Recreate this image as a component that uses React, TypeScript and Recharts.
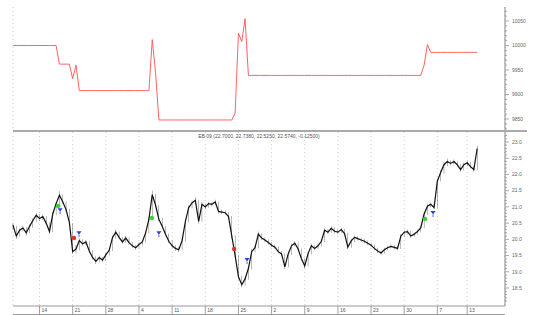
import { ComposedChart, Line, Bar, Scatter, XAxis, YAxis, CartesianGrid } from "recharts";

// close per half-day slot (x = slot index)
const close = [
  20.44, 20.1, 20.28, 20.35, 20.2, 20.4, 20.58, 20.74, 20.64, 20.7,
  20.5, 20.24, 20.78, 21.1, 21.36, 21.16, 20.92, 20.52, 19.62, 19.7,
  19.96, 19.86, 19.92, 19.64, 19.44, 19.32, 19.44, 19.36, 19.52, 19.66,
  20.05, 20.22, 20.06, 19.92, 20.04, 19.9, 19.8, 19.74, 19.84, 19.92,
  20.2, 20.62, 21.38, 21.05, 20.62, 20.4, 20.16, 19.94, 19.8, 19.72,
  19.68, 19.96, 20.55, 20.98, 21.12, 21.2, 20.55, 21.08, 21.0, 21.1,
  21.08, 21.15, 20.86, 20.84, 20.82, 20.7, 20.1, 19.5, 18.85, 18.6,
  18.78, 19.1, 19.62, 19.74, 20.16, 20.04, 19.98, 19.9, 19.82, 19.76,
  19.62, 19.55, 19.15, 19.55, 19.8, 19.88, 19.7, 19.4, 19.18, 19.56,
  19.8, 19.72, 19.8, 19.94, 20.28, 20.22, 20.34, 20.25, 20.22, 20.3,
  20.18, 19.76, 19.95, 20.06, 20.02, 19.98, 19.94, 19.88, 19.82, 19.72,
  19.64, 19.58, 19.68, 19.74, 19.78, 19.75, 19.72, 20.1, 20.22, 20.24,
  20.1, 20.16, 20.24, 20.36, 20.78, 21.02, 21.08, 20.98, 21.8, 22.06,
  22.3, 22.4, 22.34, 22.4, 22.3, 22.15, 22.3, 22.36, 22.24, 22.15,
  22.8,
];

const high = [
  20.52, 20.42, 20.34, 20.42, 20.38, 20.46, 20.64, 20.8, 20.78, 20.76,
  20.72, 20.52, 20.84, 21.16, 21.48, 21.38, 21.18, 20.94, 20.5, 19.82,
  20.02, 20.0, 19.98, 19.94, 19.66, 19.48, 19.5, 19.46, 19.58, 19.72,
  20.12, 20.3, 20.24, 20.08, 20.1, 20.06, 19.92, 19.82, 19.9, 19.98,
  20.26, 20.7, 21.5, 21.4, 21.06, 20.66, 20.42, 20.18, 19.96, 19.82,
  19.76, 20.02, 20.62, 21.04, 21.2, 21.3, 21.22, 21.14, 21.1, 21.16,
  21.14, 21.22, 21.16, 20.92, 20.9, 20.84, 20.72, 20.12, 19.52, 18.88,
  18.86, 19.18, 19.7, 19.82, 20.24, 20.18, 20.06, 20.0, 19.92, 19.84,
  19.78, 19.64, 19.56, 19.62, 19.86, 19.94, 19.9, 19.72, 19.42, 19.62,
  19.86, 19.82, 19.86, 20.0, 20.34, 20.3, 20.4, 20.36, 20.3, 20.36,
  20.32, 20.2, 20.02, 20.12, 20.1, 20.06, 20.02, 19.96, 19.9, 19.84,
  19.74, 19.66, 19.74, 19.8, 19.84, 19.82, 19.8, 20.16, 20.28, 20.3,
  20.26, 20.22, 20.3, 20.42, 20.84, 21.1, 21.14, 21.1, 21.86, 22.14,
  22.38, 22.48, 22.44, 22.46, 22.42, 22.32, 22.36, 22.42, 22.38, 22.26,
  22.88,
];

const low = [
  20.3, 20.02, 20.08, 20.24, 20.12, 20.18, 20.36, 20.55, 20.58, 20.6,
  20.44, 20.18, 20.22, 20.74, 21.06, 21.1, 20.86, 20.46, 19.55, 19.56,
  19.66, 19.8, 19.82, 19.58, 19.38, 19.24, 19.3, 19.3, 19.34, 19.5,
  19.64, 20.02, 20.0, 19.86, 19.9, 19.84, 19.74, 19.68, 19.72, 19.8,
  19.9, 20.18, 20.6, 20.98, 20.56, 20.34, 20.1, 19.88, 19.74, 19.64,
  19.6, 19.66, 19.94, 20.52, 20.96, 21.08, 20.48, 20.54, 20.94, 20.98,
  21.02, 21.06, 20.8, 20.78, 20.76, 20.64, 20.02, 19.42, 18.76, 18.52,
  18.58, 18.76, 19.08, 19.6, 19.72, 19.98, 19.92, 19.84, 19.76, 19.7,
  19.56, 19.48, 19.08, 19.14, 19.52, 19.78, 19.64, 19.34, 19.1, 19.16,
  19.54, 19.66, 19.7, 19.78, 19.92, 20.16, 20.2, 20.18, 20.16, 20.2,
  20.12, 19.7, 19.74, 19.92, 19.96, 19.92, 19.88, 19.82, 19.76, 19.66,
  19.58, 19.52, 19.56, 19.66, 19.72, 19.68, 19.66, 19.7, 20.08, 20.16,
  20.04, 20.08, 20.14, 20.22, 20.34, 20.76, 20.98, 20.92, 20.96, 21.78,
  22.02, 22.26, 22.28, 22.3, 22.24, 22.08, 22.12, 22.26, 22.18, 22.08,
  22.14,
];

// upper indicator
const level = [
  10000, 10000, 10000, 10000, 10000, 10000, 10000, 10000, 10000, 10000,
  10000, 10000, 10000, 10000, 9962, 9962, 9962, 9962, 9932, 9960,
  9908, 9908, 9908, 9908, 9908, 9908, 9908, 9908, 9908, 9908,
  9908, 9908, 9908, 9908, 9908, 9908, 9908, 9908, 9908, 9908,
  9908, 9908, 10012, 9945, 9848, 9848, 9848, 9848, 9848, 9848,
  9848, 9848, 9848, 9848, 9848, 9848, 9848, 9848, 9848, 9848,
  9848, 9848, 9848, 9848, 9848, 9848, 9848, 9862, 10025, 10008,
  10055, 9939, 9939, 9939, 9939, 9939, 9939, 9939, 9939, 9939,
  9939, 9939, 9939, 9939, 9939, 9939, 9939, 9939, 9939, 9939,
  9939, 9939, 9939, 9939, 9939, 9939, 9939, 9939, 9939, 9939,
  9939, 9939, 9939, 9939, 9939, 9939, 9939, 9939, 9939, 9939,
  9939, 9939, 9939, 9939, 9939, 9939, 9939, 9939, 9939, 9939,
  9939, 9939, 9939, 9939, 9960, 10002, 9986, 9986, 9986, 9986,
  9986, 9986, 9986, 9986, 9986, 9986, 9986, 9986, 9986, 9986,
  9986,
];

const weekTicks = [8, 18, 28, 38, 48, 58, 68, 78, 88, 98, 108, 118, 128, 137];
const weekLabels = ["14", "21", "28", "4", "11", "18", "25", "2", "9", "16", "23", "30", "7", "13"];

const buyX = [13.6, 41.9, 124.3];
const buyY = [21.03, 20.66, 20.63];
const sellX = [18.4, 66.7];
const sellY = [20.04, 19.7];
const exitX = [14.2, 19.9, 44, 70.6, 126.7];
const exitY = [20.9, 20.19, 20.19, 19.36, 20.81];

const title = "EB 09 (22.7000, 22.7380, 22.5250, 22.5740, -0.12500)";

const FONT = "'Liberation Sans', Arial, sans-serif";
const X_DOMAIN: [number, number] = [0, 148.4];

const data = close.map((c, i) => ({ x: i, close: c, range: [low[i], high[i]], level: level[i] }));
const buys = buyX.map((x, i) => ({ x, y: buyY[i] }));
const sells = sellX.map((x, i) => ({ x, y: sellY[i] }));
const exits = exitX.map((x, i) => ({ x, y: exitY[i] }));

const levelTicks: number[] = [];
for (let v = 9830; v <= 10070; v += 10) levelTicks.push(v);
const priceTicks: number[] = [];
for (let v = 181; v <= 232; v++) priceTicks.push(v / 10);

function RightTick(props: any) {
  const { x, y, major, label } = props;
  return (
    <g>
      <line x1={x} x2={x + (major ? 4 : 2)} y1={y} y2={y} stroke="#888" strokeWidth={0.7} />
      {major && (
        <text x={x + 7} y={y + 1.8} fontSize={5} fill="#666" fontFamily={FONT}>
          {label}
        </text>
      )}
    </g>
  );
}

function WeekTick(props: any) {
  const { x, y, index } = props;
  return (
    <g>
      <line x1={x} x2={x} y1={y} y2={y + 8} stroke="#777" strokeWidth={0.7} />
      <text x={x + 2} y={y + 6} fontSize={5} fill="#555" fontFamily={FONT}>
        {weekLabels[index]}
      </text>
    </g>
  );
}

const Dot = (color: string) => (p: any) => <circle cx={p.cx} cy={p.cy} r={2.2} fill={color} />;

const ExitMark = (p: any) => (
  <g>
    <path d={`M${p.cx - 2.5},${p.cy - 2} L${p.cx + 2.5},${p.cy - 2} L${p.cx},${p.cy + 1.5} Z`} fill="#2a3fe8" />
    <line x1={p.cx} x2={p.cx} y1={p.cy + 1.5} y2={p.cy + 4} stroke="#2a3fe8" strokeWidth={0.8} />
  </g>
);

export default function App() {
  return (
    <div style={{ position: "absolute", left: 0, top: 0, width: 539, height: 315, background: "#fff", fontFamily: FONT }}>
      <div style={{ position: "absolute", left: 0, top: 0 }}>
        <ComposedChart width={539} height={131} data={data} margin={{ top: 7, right: 0, bottom: 0, left: 13 }}>
          <CartesianGrid vertical horizontal={false} stroke="#ccc" strokeDasharray="1 3" />
          <XAxis dataKey="x" type="number" domain={X_DOMAIN} ticks={weekTicks} height={0} tick={false} tickLine={false} axisLine={false} />
          <YAxis
            orientation="right"
            width={34}
            domain={[9825.5, 10078.6]}
            ticks={levelTicks}
            interval={0}
            tickSize={0}
            tickMargin={0}
            tickLine={false}
            axisLine={{ stroke: "#888" }}
            tick={(p: any) => <RightTick {...p} major={p.payload.value % 50 === 0} label={String(p.payload.value)} />}
          />
          <Line type="linear" dataKey="level" stroke="#ff6262" strokeWidth={1} dot={false} isAnimationActive={false} />
        </ComposedChart>
      </div>
      <div style={{ position: "absolute", left: 13, top: 130, width: 514, height: 2, background: "#aaa" }} />
      <div style={{ position: "absolute", left: 0, top: 132 }}>
        <ComposedChart width={539} height={183} data={data} margin={{ top: 0, right: 0, bottom: 0, left: 13 }}>
          <CartesianGrid vertical horizontal={false} stroke="#ccc" strokeDasharray="1 3" />
          <XAxis
            dataKey="x"
            type="number"
            domain={X_DOMAIN}
            ticks={weekTicks}
            interval={0}
            height={9}
            tickSize={0}
            tickMargin={0}
            tickLine={false}
            axisLine={{ stroke: "#999" }}
            tick={(p: any) => <WeekTick {...p} />}
          />
          <YAxis
            orientation="right"
            width={34}
            domain={[17.945, 23.308]}
            ticks={priceTicks}
            interval={0}
            tickSize={0}
            tickMargin={0}
            tickLine={false}
            axisLine={{ stroke: "#888" }}
            tick={(p: any) => {
              const v = p.payload.value;
              const major = Math.abs(v * 2 - Math.round(v * 2)) < 1e-6;
              return <RightTick {...p} major={major} label={v.toFixed(1)} />;
            }}
          />
          <Bar dataKey="range" fill="#111" barSize={1.6} isAnimationActive={false} />
          <Line type="linear" dataKey="close" stroke="#111" strokeWidth={1.2} dot={false} isAnimationActive={false} />
          <Scatter data={buys} dataKey="y" shape={Dot("#2fd82f")} isAnimationActive={false} />
          <Scatter data={sells} dataKey="y" shape={Dot("#e23030")} isAnimationActive={false} />
          <Scatter data={exits} dataKey="y" shape={ExitMark} isAnimationActive={false} />
        </ComposedChart>
      </div>
      <div style={{ position: "absolute", left: 13, top: 314, width: 492, height: 1, background: "#999" }} />
      <div style={{ position: "absolute", left: 0, top: 133, width: 518, textAlign: "center", fontSize: 5, color: "#555", whiteSpace: "nowrap", lineHeight: "6px" }}>
        {title}
      </div>
    </div>
  );
}
